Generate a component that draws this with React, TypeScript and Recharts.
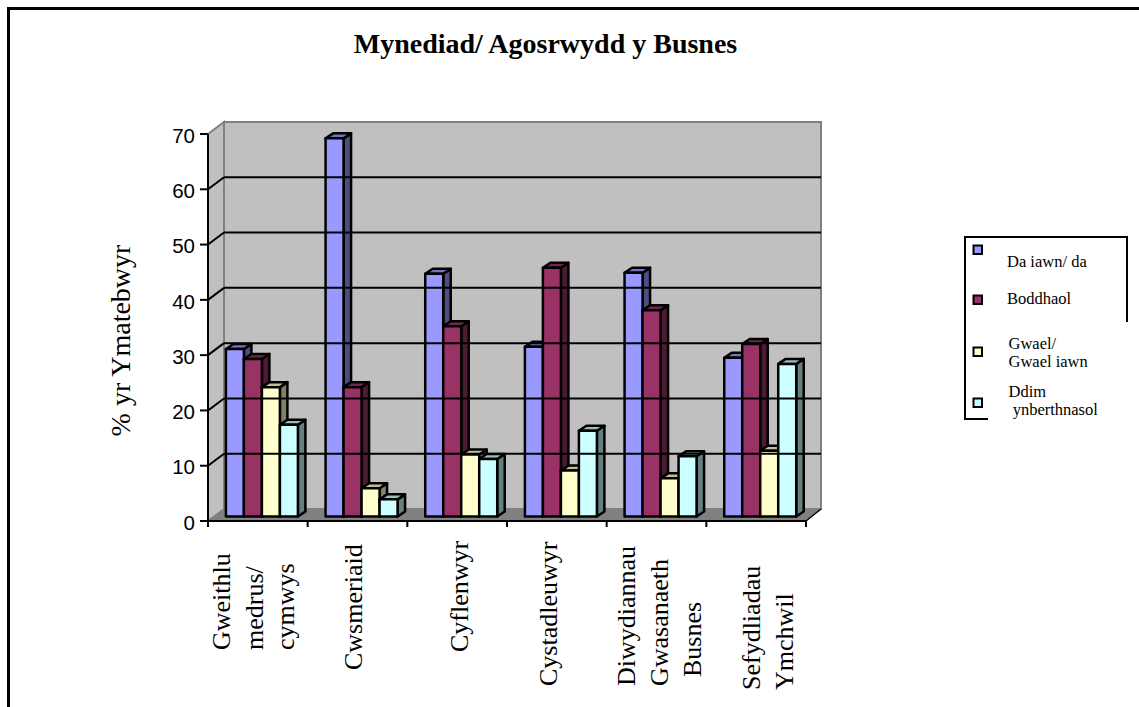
import React from "react";
import { BarChart, Bar, XAxis, YAxis, ReferenceArea, ReferenceLine, Legend } from "recharts";

// ---- data ----
const categories = ["Gweithlu medrus/ cymwys", "Cwsmeriaid", "Cyflenwyr", "Cystadleuwyr", "Diwydiannau Gwasanaeth Busnes", "Sefydliadau Ymchwil"];
const categoryLines = [
  ["Gweithlu", "medrus/", "cymwys"],
  ["Cwsmeriaid"],
  ["Cyflenwyr"],
  ["Cystadleuwyr"],
  ["Diwydiannau", "Gwasanaeth", "Busnes"],
  ["Sefydliadau", "Ymchwil"],
];
const daIawn = [30.3, 68.4, 43.9, 30.7, 44.1, 28.7];
const boddhaol = [28.5, 23.4, 34.4, 45, 37.3, 31.2];
const gwael = [23.4, 5.1, 11.2, 8.3, 6.9, 11.9];
const ddim = [16.6, 3.1, 10.4, 15.5, 10.9, 27.6];
const yTicks = [0, 10, 20, 30, 40, 50, 60, 70];
const gridValues = [10, 20, 30, 40, 50, 60];
const seriesNames = ["Da iawn/ da", "Boddhaol", "Gwael/ Gwael iawn", "Ddim ynberthnasol"];
const legendLines = [["Da iawn/ da"], ["Boddhaol"], ["Gwael/", "Gwael iawn"], ["Ddim", " ynberthnasol"]];
const title = "Mynediad/ Agosrwydd y Busnes";
const yTitle = "% yr Ymatebwyr";

const chartData = categories.map((category, i) => ({
  category,
  a: daIawn[i],
  b: boddhaol[i],
  c: gwael[i],
  d: ddim[i],
}));

// ---- styling ----
const SERIF = "'Liberation Serif', serif";
const SANS = "'Liberation Sans', sans-serif";
const PALETTE = [
  { front: "#9999FF", top: "#7373BF", side: "#4D4D80" },
  { front: "#993366", top: "#73264D", side: "#4D1A33" },
  { front: "#FFFFCC", top: "#BFBF99", side: "#808066" },
  { front: "#CCFFFF", top: "#99BFBF", side: "#668080" },
];
const DEPTH_X = 16;
const DEPTH_Y = 12;
const BAR_SHIFT_X = 4.7;
const BAR_SHIFT_Y = 4.5;
const BAR_DX = 7.5;
const BAR_DY = 5;
const BAND = 598 / 6;

// per-category label placement: baseline offset from tick centre, text start y
const labelOffsets = [[-28, 5, 36], [4.5], [11], [0], [-21.5, 11.5, 44.5], [4, 37]];
const labelStartY = [[650, 650, 650], [670], [652], [686], [686, 686, 677], [690, 690]];

const makeBar = (idx: number) => (props: any) => {
  const { x, y, width, height } = props;
  const c = PALETTE[idx];
  const X = x + BAR_SHIFT_X;
  const Y = y - BAR_SHIFT_Y;
  const common = { stroke: "#000", strokeWidth: 2.5, strokeLinejoin: "round" as const };
  return (
    <g>
      <polygon
        points={`${X + width},${Y} ${X + width + BAR_DX},${Y - BAR_DY} ${X + width + BAR_DX},${Y + height - BAR_DY} ${X + width},${Y + height}`}
        fill={c.side}
        {...common}
      />
      <polygon
        points={`${X},${Y} ${X + BAR_DX},${Y - BAR_DY} ${X + width + BAR_DX},${Y - BAR_DY} ${X + width},${Y}`}
        fill={c.top}
        {...common}
      />
      <rect x={X} y={Y} width={width} height={height} fill={c.front} {...common} />
    </g>
  );
};

const WallShape = (props: any) => {
  const { x, y, width, height } = props;
  const b = y + height;
  const r = x + width;
  const grey = "#808080";
  return (
    <g>
      <polygon
        points={`${x},${b} ${x + DEPTH_X},${b - DEPTH_Y} ${x + DEPTH_X},${y - DEPTH_Y} ${x},${y}`}
        fill="#C0C0C0"
        stroke={grey}
        strokeWidth={2}
      />
      <rect x={x + DEPTH_X} y={y - DEPTH_Y} width={width - 1} height={height} fill="#C0C0C0" stroke={grey} strokeWidth={2} />
      <polygon
        points={`${x},${b} ${r},${b} ${r + DEPTH_X - 1},${b - DEPTH_Y} ${x + DEPTH_X},${b - DEPTH_Y}`}
        fill={grey}
        stroke={grey}
        strokeWidth={1}
      />
      <line x1={r} y1={b} x2={r + DEPTH_X - 1} y2={b - DEPTH_Y} stroke="#000" strokeWidth={1.5} />
    </g>
  );
};

const GridShape = (props: any) => {
  const { x1, y1, x2 } = props;
  const common = { stroke: "#000", strokeWidth: 2 };
  return (
    <g>
      <line x1={x1} y1={y1} x2={x1 + DEPTH_X} y2={y1 - DEPTH_Y} {...common} />
      <line x1={x1 + DEPTH_X} y1={y1 - DEPTH_Y} x2={x2 + DEPTH_X - 1} y2={y1 - DEPTH_Y} {...common} />
    </g>
  );
};

const CategoryTick = (props: any) => {
  const { x, y, index } = props;
  const lines = categoryLines[index] || [];
  const left = x - BAND / 2;
  const right = x + BAND / 2;
  return (
    <g>
      <line x1={left} y1={y} x2={left} y2={y + 6} stroke="#000" strokeWidth={2} />
      {index === categories.length - 1 && <line x1={right} y1={y} x2={right} y2={y + 6} stroke="#000" strokeWidth={2} />}
      {lines.map((line, i) => {
        const tx = x + labelOffsets[index][i];
        const ty = labelStartY[index][i];
        return (
          <text key={line} x={tx} y={ty} transform={`rotate(-90 ${tx} ${ty})`} fontFamily={SERIF} fontSize={26} fill="#000" textAnchor="start">
            {line}
          </text>
        );
      })}
    </g>
  );
};

const YTitle = () => (
  <text x={130} y={340.5} transform="rotate(-90 130 340.5)" fontFamily={SERIF} fontSize={28} fill="#000" textAnchor="middle">
    {yTitle}
  </text>
);

const LegendBox = (props: any) => {
  const payload = props.payload || [];
  const markerY = [9.5, 59.5, 111.5, 162.5];
  const textY = [[31], [68], [113, 131], [161, 179]];
  const textX = [[43], [43], [44.5, 44.5], [44.5, 44.5]];
  return (
    <svg width={175} height={190} style={{ display: "block" }}>
      <path d="M1,86 V1 H163 V86" fill="none" stroke="#000" strokeWidth={2} />
      <path d="M1,86 V183 H24" fill="none" stroke="#000" strokeWidth={2} />
      {payload.map((p: any, i: number) => (
        <g key={p.value}>
          <rect x={9.5} y={markerY[i]} width={8.5} height={8.5} fill={p.color} stroke="#000" strokeWidth={2} />
          {legendLines[i].map((line, j) => (
            <text key={line} x={textX[i][j]} y={textY[i][j]} fontFamily={SERIF} fontSize={16.5} fill="#000" style={{ whiteSpace: "pre" }} xmlSpace="preserve">
              {line}
            </text>
          ))}
        </g>
      ))}
    </svg>
  );
};

export default function App() {
  return (
    <div style={{ position: "absolute", left: 0, top: 0, width: 1139, height: 707, overflow: "hidden", background: "#fff" }}>
      <div style={{ position: "absolute", left: 7, top: 7, width: 1132, height: 700, borderLeft: "3px solid #000", borderTop: "3px solid #000" }} />
      <div style={{ position: "absolute", left: 345.5, width: 400, top: 28, textAlign: "center", fontFamily: SERIF, fontWeight: 700, fontSize: 28, whiteSpace: "nowrap" }}>
        {title}
      </div>
      <BarChart
        width={1139}
        height={707}
        data={chartData}
        barGap={0}
        barCategoryGap={13.2}
        margin={{ left: 148, right: 333, top: 134, bottom: 86 }}
        style={{ position: "absolute", left: 0, top: 0 }}
      >
        <XAxis
          dataKey="category"
          interval={0}
          height={100}
          tick={CategoryTick}
          tickSize={0}
          tickMargin={0}
          tickLine={false}
          axisLine={{ stroke: "#000", strokeWidth: 2 }}
        />
        <YAxis
          width={60}
          domain={[0, 70]}
          ticks={yTicks}
          tickSize={8}
          tickMargin={5}
          tick={{ fontFamily: SANS, fontSize: 20.5, fill: "#000", dy: 1.5 }}
          tickLine={{ stroke: "#000", strokeWidth: 2 }}
          axisLine={{ stroke: "#000", strokeWidth: 2 }}
          label={{ content: YTitle }}
        />
        <ReferenceArea y1={0} y2={70} shape={WallShape} fill="#C0C0C0" />
        {gridValues.map((v) => (
          <ReferenceLine key={v} y={v} shape={GridShape} stroke="#000" />
        ))}
        <Legend
          layout="horizontal"
          verticalAlign="middle"
          align="center"
          itemSorter={null}
          wrapperStyle={{ left: 964, top: 236, width: 175, height: 190 }}
          content={LegendBox}
        />
        <Bar dataKey="a" name={seriesNames[0]} fill={PALETTE[0].front} shape={makeBar(0)} isAnimationActive={false} />
        <Bar dataKey="b" name={seriesNames[1]} fill={PALETTE[1].front} shape={makeBar(1)} isAnimationActive={false} />
        <Bar dataKey="c" name={seriesNames[2]} fill={PALETTE[2].front} shape={makeBar(2)} isAnimationActive={false} />
        <Bar dataKey="d" name={seriesNames[3]} fill={PALETTE[3].front} shape={makeBar(3)} isAnimationActive={false} />
      </BarChart>
    </div>
  );
}
